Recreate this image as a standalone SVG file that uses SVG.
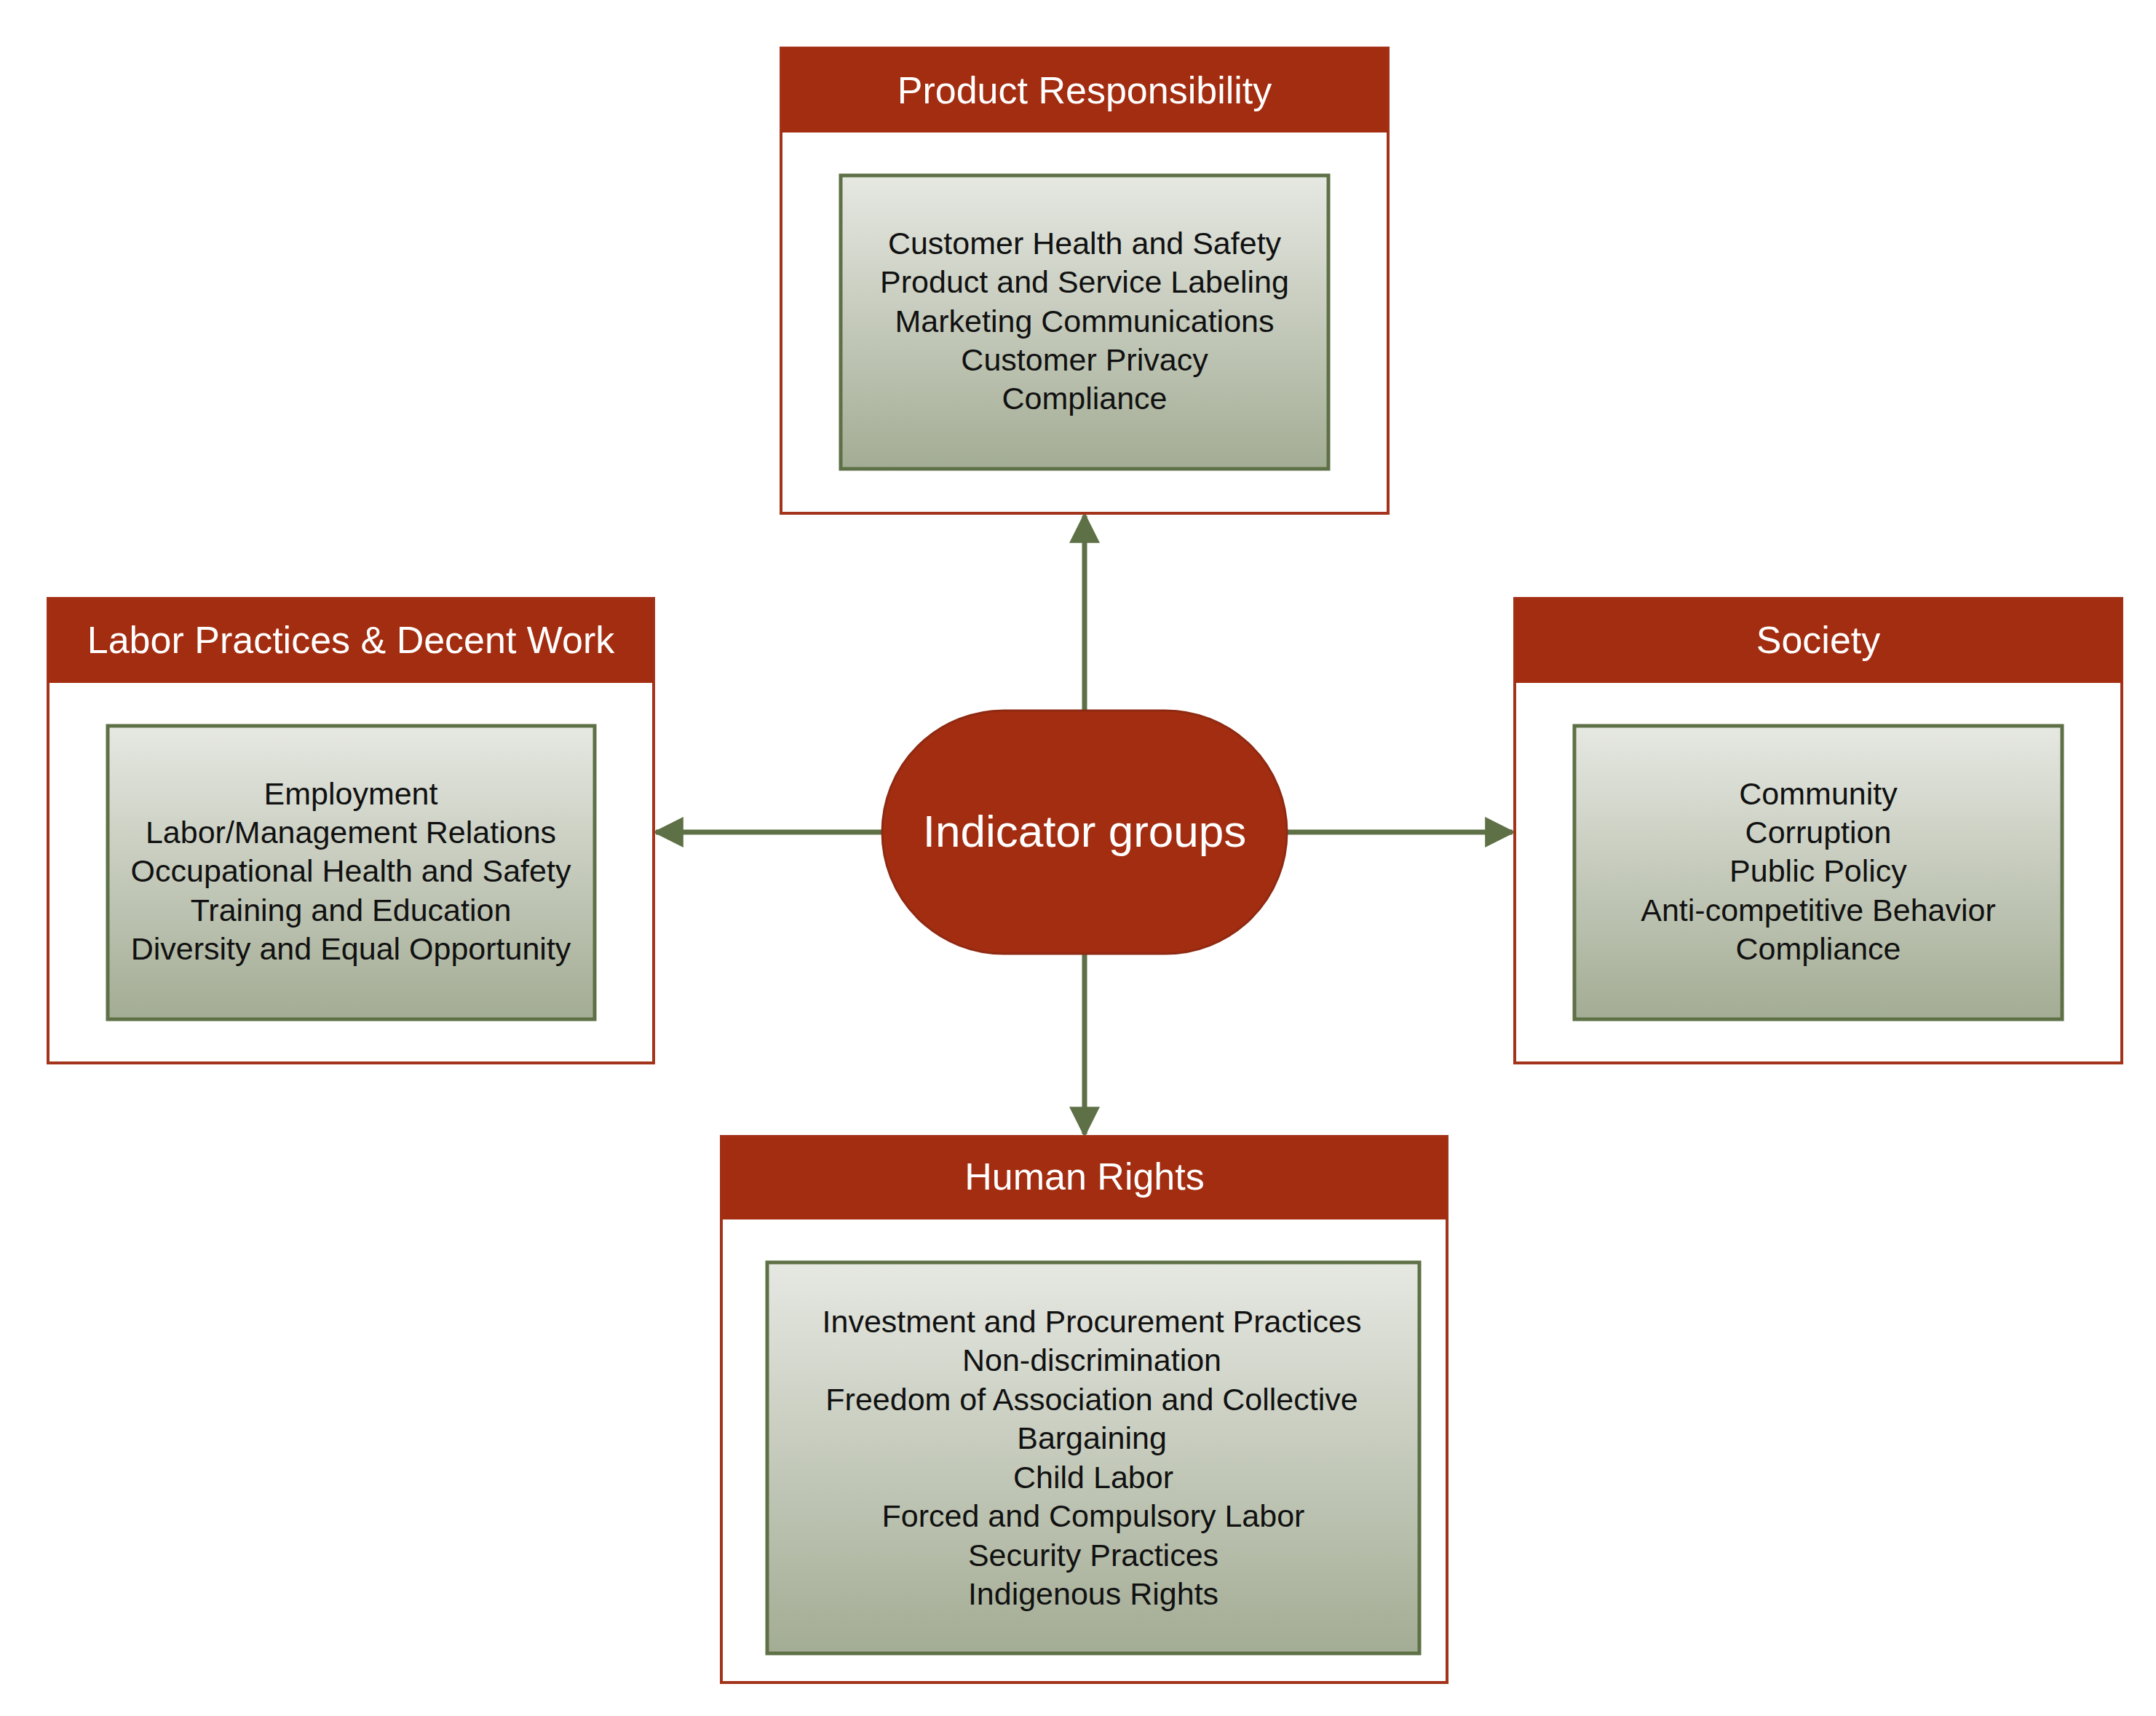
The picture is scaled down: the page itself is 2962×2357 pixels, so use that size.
<svg xmlns="http://www.w3.org/2000/svg" width="2962" height="2357" viewBox="0 0 2962 2357">
<defs>
<linearGradient id="g" x1="0" y1="0" x2="0" y2="1"><stop offset="0" stop-color="#e6e8e2"/><stop offset="1" stop-color="#a3ac94"/></linearGradient>
<marker id="ah" viewBox="0 0 10 10" refX="9" refY="5" markerWidth="6" markerHeight="6" orient="auto" markerUnits="strokeWidth"><path d="M0,0 L10,5 L0,10 z" fill="#5e7046"/></marker>
<style>
.outer{fill:#fff;stroke:#a3331a;stroke-width:4}
.hdr{fill:#a32d10}
.inner{fill:url(#g);stroke:#5e7046;stroke-width:5}
.ht{font-family:"Liberation Sans",Arial,sans-serif;font-size:52px;fill:#fff;text-anchor:middle;dominant-baseline:central}
.it{font-family:"Liberation Sans",Arial,sans-serif;font-size:43px;fill:#111;text-anchor:middle;dominant-baseline:central}
.c{stroke:#5e7046;stroke-width:7;fill:none;marker-end:url(#ah)}
</style>
</defs>
<rect width="2962" height="2357" fill="#fff"/>
<g id="connectors">
<line class="c" x1="1490" y1="976" x2="1490" y2="708"/>
<line class="c" x1="1212" y1="1143" x2="901" y2="1143"/>
<line class="c" x1="1768" y1="1143" x2="2078" y2="1143"/>
<line class="c" x1="1490" y1="1310" x2="1490" y2="1558"/>
</g>
<g id="product">
<rect class="outer" x="1073" y="66" width="834" height="639"/>
<rect class="hdr" x="1073" y="66" width="834" height="116"/>
<text class="ht" x="1490" y="124">Product Responsibility</text>
<rect class="inner" x="1155" y="241" width="670" height="403"/>
<text class="it" x="1490" y="334">Customer Health and Safety</text>
<text class="it" x="1490" y="387">Product and Service Labeling</text>
<text class="it" x="1490" y="441">Marketing Communications</text>
<text class="it" x="1490" y="494">Customer Privacy</text>
<text class="it" x="1490" y="547">Compliance</text>
</g>
<g id="labor">
<rect class="outer" x="66" y="822" width="832" height="638"/>
<rect class="hdr" x="66" y="822" width="832" height="116"/>
<text class="ht" x="482" y="879">Labor Practices &amp; Decent Work</text>
<rect class="inner" x="148" y="997" width="669" height="403"/>
<text class="it" x="482" y="1090">Employment</text>
<text class="it" x="482" y="1143">Labor/Management Relations</text>
<text class="it" x="482" y="1196">Occupational Health and Safety</text>
<text class="it" x="482" y="1250">Training and Education</text>
<text class="it" x="482" y="1303">Diversity and Equal Opportunity</text>
</g>
<g id="society">
<rect class="outer" x="2081" y="822" width="834" height="638"/>
<rect class="hdr" x="2081" y="822" width="834" height="116"/>
<text class="ht" x="2498" y="879">Society</text>
<rect class="inner" x="2163" y="997" width="670" height="403"/>
<text class="it" x="2498" y="1090">Community</text>
<text class="it" x="2498" y="1143">Corruption</text>
<text class="it" x="2498" y="1196">Public Policy</text>
<text class="it" x="2498" y="1250">Anti-competitive Behavior</text>
<text class="it" x="2498" y="1303">Compliance</text>
</g>
<g id="human">
<rect class="outer" x="991" y="1561" width="997" height="750"/>
<rect class="hdr" x="991" y="1561" width="997" height="114"/>
<text class="ht" x="1490" y="1616">Human Rights</text>
<rect class="inner" x="1054" y="1734" width="896" height="537"/>
<text class="it" x="1500" y="1815">Investment and Procurement Practices</text>
<text class="it" x="1500" y="1868">Non-discrimination</text>
<text class="it" x="1500" y="1922">Freedom of Association and Collective</text>
<text class="it" x="1500" y="1975">Bargaining</text>
<text class="it" x="1502" y="2029">Child Labor</text>
<text class="it" x="1502" y="2082">Forced and Compulsory Labor</text>
<text class="it" x="1502" y="2136">Security Practices</text>
<text class="it" x="1502" y="2189">Indigenous Rights</text>
</g>
<g id="center">
<rect x="1212" y="976" width="556" height="334" rx="167" ry="167" fill="#a32d10" stroke="#8f2a12" stroke-width="3"/>
<text x="1490" y="1141" style="font-family:'Liberation Sans',Arial,sans-serif;font-size:62px;fill:#fff;text-anchor:middle;dominant-baseline:central">Indicator groups</text>
</g>
</svg>
